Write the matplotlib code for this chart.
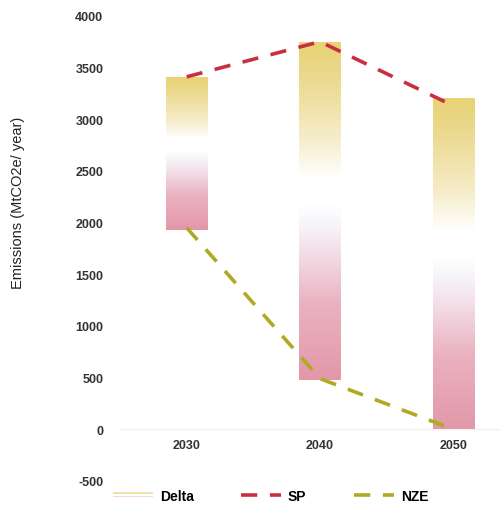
import numpy as np
import matplotlib
matplotlib.use("Agg")
import matplotlib.pyplot as plt
from matplotlib.colors import LinearSegmentedColormap
from matplotlib.patches import Rectangle
from matplotlib.lines import Line2D
from matplotlib.legend_handler import HandlerBase

years = ["2030", "2040", "2050"]
bar_top = [3410, 3750, 3200]
bar_bottom = [1930, 480, 0]
sp = [3410, 3750, 3130]
nze = [1950, 490, 0]
yticks = [-500, 0, 500, 1000, 1500, 2000, 2500, 3000, 3500, 4000]

yellow = "#E6CE68"
pink = "#E08FA2"
red = "#C8303F"
olive = "#AFAA22"

cmap = LinearSegmentedColormap.from_list(
    "delta", [(0.0, pink), (0.22, "#E9AABA"), (0.4, "#F3E3EC"), (0.47, "#F8F6FA"),
              (0.52, "#FFFFFF"), (0.6, "#FFFFFF"), (0.72, "#F5EBC4"), (0.88, "#EBD88A"),
              (1.0, yellow)])

plt.rcParams['font.family'] = ['Liberation Sans', 'DejaVu Sans']

fig = plt.figure(figsize=(5, 5.1), dpi=100)
ax = fig.add_axes([0.24, 0.055, 0.76, 0.912])

x = np.arange(len(years))
width = 0.31
grad = np.linspace(0, 1, 256).reshape(-1, 1)
for xi, b, t in zip(x, bar_bottom, bar_top):
    ax.imshow(grad, cmap=cmap, origin="lower", aspect="auto",
              extent=[xi - width / 2, xi + width / 2, b, t], alpha=0.92, zorder=2)

ax.plot(x, sp, color=red, lw=2.6, dashes=(4.5, 3.5), zorder=3)
ax.plot(x, nze, color=olive, lw=2.6, dashes=(4.5, 3.5), zorder=3)

ax.axhline(0, color="#F0F0F0", lw=1, zorder=1)

ax.set_xlim(-0.5, 2.35)
ax.set_ylim(-500, 4000)
ax.set_yticks(yticks)
ax.set_yticklabels([str(v) for v in yticks], fontsize=9, fontweight="bold", color="#333333")
ax.tick_params(axis="both", length=0)
ax.tick_params(axis="y", pad=12)
for s in ax.spines.values():
    s.set_visible(False)
ax.set_xticks([])
for xi, yr in zip(x, years):
    ax.text(xi, -90, yr, ha="center", va="top", fontsize=9, fontweight="bold", color="#333333")

ax.set_ylabel("Emissions (MtCO2e/ year)", fontsize=10.5, color="#222222")
ax.yaxis.set_label_coords(-0.25, 0.60)


class DeltaHandler(HandlerBase):
    def create_artists(self, legend, orig_handle, xdescent, ydescent, width, height, fontsize, trans):
        r1 = Rectangle((xdescent, ydescent + height * 0.58), width, height * 0.16,
                       facecolor="#EFE2A8", edgecolor="none", transform=trans)
        r2 = Rectangle((xdescent, ydescent + height * 0.22), width, height * 0.16,
                       facecolor="#F0D6DF", edgecolor="none", transform=trans)
        return [r1, r2]


delta_handle = Rectangle((0, 0), 1, 1)
sp_handle = Line2D([], [], color=red, lw=2.6, dashes=(4.5, 3.5))
nze_handle = Line2D([], [], color=olive, lw=2.6, dashes=(4.5, 3.5))
fig.legend([delta_handle, sp_handle, nze_handle], ["Delta", "SP", "NZE"],
           handler_map={Rectangle: DeltaHandler()},
           loc="lower left", bbox_to_anchor=(0.2, -0.012), ncol=3, frameon=False,
           handlelength=2.9, columnspacing=3.4, handletextpad=0.5,
           prop={"size": 10, "weight": "bold"})

fig.savefig("out.png", dpi=100, facecolor="white")
